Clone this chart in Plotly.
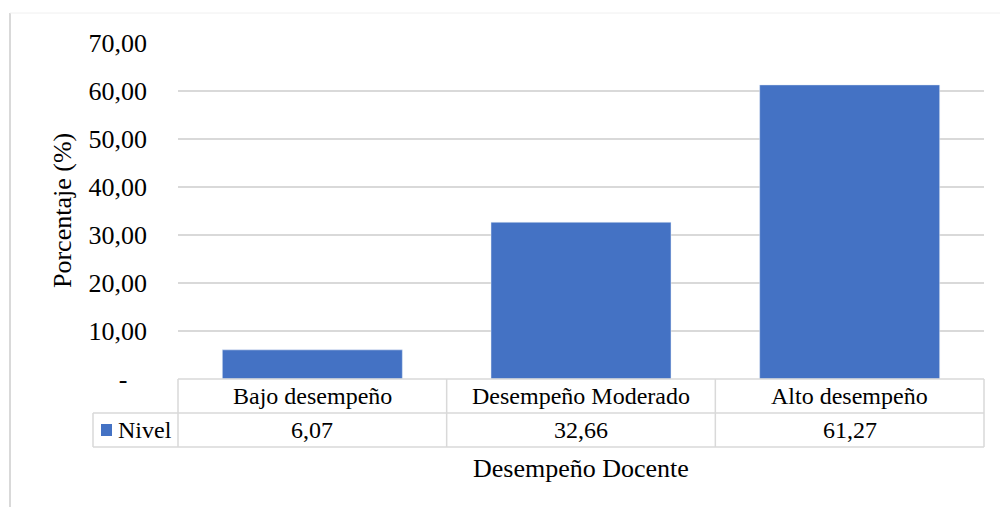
import plotly.graph_objects as go

categories = ["Bajo desempeño", "Desempeño Moderado", "Alto desempeño"]
values = [6.07, 32.66, 61.27]
series_name = "Nivel"
y_tickvals = [0, 10, 20, 30, 40, 50, 60, 70]
y_ticktext = ["-\u00a0\u00a0\u00a0", "10,00", "20,00", "30,00", "40,00", "50,00", "60,00", "70,00"]
y_title = "Porcentaje (%)"
x_title = "Desempeño Docente"

W, H = 1000, 507
L, R, T, B = 178, 16, 43, 128
PW = W - L - R
PH = H - T - B
FONT = "Liberation Serif"
BLUE = "#4472C4"
GRID = "#d9d9d9"


def px_x(p):
    return (p - L) / PW


def px_y(p):
    return (H - B - p) / PH


def fmt(v):
    return f"{v:.2f}".replace(".", ",")


fig = go.Figure()
fig.add_trace(go.Bar(x=categories, y=values, name=series_name, marker_color=BLUE,
                     showlegend=False, hoverinfo="skip"))

n = len(categories)
row1_top = px_y(379)
row1_bot = px_y(413)
row2_bot = px_y(447)
left_col = px_x(93)

shapes = []
line = dict(color=GRID, width=1.5)
shapes.append(dict(type="line", xref="paper", yref="paper", x0=0, x1=1, y0=row1_top, y1=row1_top, line=line))
shapes.append(dict(type="line", xref="paper", yref="paper", x0=left_col, x1=1, y0=row1_bot, y1=row1_bot, line=line))
shapes.append(dict(type="line", xref="paper", yref="paper", x0=left_col, x1=1, y0=row2_bot, y1=row2_bot, line=line))
for i in range(n + 1):
    shapes.append(dict(type="line", xref="paper", yref="paper", x0=i / n, x1=i / n,
                       y0=row2_bot, y1=row1_top, line=line))
shapes.append(dict(type="line", xref="paper", yref="paper", x0=left_col, x1=left_col,
                   y0=row2_bot, y1=row1_bot, line=line))
shapes.append(dict(type="rect", xref="paper", yref="paper", x0=px_x(101), x1=px_x(112),
                   y0=px_y(436), y1=px_y(424), fillcolor=BLUE, line=dict(width=0)))
shapes.append(dict(type="line", xref="paper", yref="paper", x0=px_x(10), x1=px_x(10),
                   y0=px_y(13), y1=px_y(520), line=dict(color=GRID, width=2)))
shapes.append(dict(type="line", xref="paper", yref="paper", x0=px_x(10), x1=px_x(1010),
                   y0=px_y(13), y1=px_y(13), line=dict(color="#f0f0f0", width=1)))

annotations = []
fnt = dict(family=FONT, size=24, color="#000000")
for c, v in zip(categories, values):
    annotations.append(dict(x=c, xref="x", y=(row1_top + row1_bot) / 2, yref="paper",
                            text=c, showarrow=False, font=fnt, xanchor="center", yanchor="middle"))
    annotations.append(dict(x=c, xref="x", y=(row1_bot + row2_bot) / 2, yref="paper",
                            text=fmt(v), showarrow=False, font=fnt, xanchor="center", yanchor="middle"))
annotations.append(dict(x=px_x(116), xref="paper", y=(row1_bot + row2_bot) / 2, yref="paper",
                        text=series_name, showarrow=False, font=fnt, xanchor="left", yanchor="middle"))
annotations.append(dict(x=0.5, xref="paper", y=px_y(468), yref="paper", text=x_title,
                        showarrow=False, font=dict(family=FONT, size=26, color="#000000"),
                        xanchor="center", yanchor="middle"))
annotations.append(dict(x=px_x(62), xref="paper", y=px_y(211), yref="paper", text=y_title,
                        showarrow=False, font=dict(family=FONT, size=26, color="#000000"),
                        textangle=-90, xanchor="center", yanchor="middle"))

fig.update_layout(
    width=W, height=H,
    margin=dict(l=L, r=R, t=T, b=B, pad=0),
    paper_bgcolor="white", plot_bgcolor="white",
    bargap=0.33,
    shapes=shapes, annotations=annotations,
    font=dict(family=FONT, size=24, color="#000000"),
    xaxis=dict(showticklabels=False, showgrid=False, zeroline=False, showline=False,
               range=[-0.5, n - 0.5], fixedrange=True),
    yaxis=dict(range=[0, 70], tickvals=y_tickvals, ticktext=y_ticktext, showgrid=True,
               gridcolor=GRID, gridwidth=1.5, zeroline=False, showline=False,
               ticks="", ticklabelstandoff=30, tickfont=dict(family=FONT, size=26, color="#000000"),
               fixedrange=True),
)

fig.write_html("out.html", config={"displayModeBar": False},
               post_script="document.body.style.margin='0px';document.body.style.padding='0px';")
